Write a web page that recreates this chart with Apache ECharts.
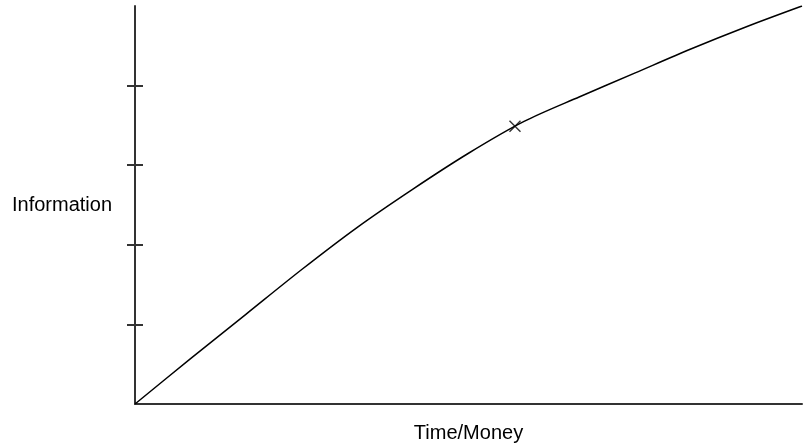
<!DOCTYPE html>
<html>
<head>
<meta charset="utf-8">
<script src="https://cdn.jsdelivr.net/npm/echarts@6/dist/echarts.min.js"></script>
<style>html,body{margin:0;padding:0;background:#fff}#c{width:803px;height:448px}</style>
</head>
<body>
<div id="c"></div>
<script>
// Curve: Information vs Time/Money (arbitrary units)
var curveX = [0, 8.33, 16.67, 25, 33.33, 41.67, 50, 58.33, 66.67, 75, 83.33, 91.67, 100];
var curveY = [0, 0.57, 1.13, 1.69, 2.22, 2.70, 3.15, 3.55, 3.86, 4.16, 4.46, 4.74, 5.0];
var markerX = [56.97];
var markerY = [3.49];
var yTickValues = [1, 2, 3, 4];
var xAxisName = 'Time/Money';
var yAxisName = 'Information';

var chart = echarts.init(document.getElementById('c'));
var axisColor = '#333';
chart.setOption({
  animation: false,
  grid: { left: 135, right: 1, top: 6, bottom: 42 },
  xAxis: {
    type: 'value', min: 0, max: 100,
    name: xAxisName, nameLocation: 'middle', nameGap: 19,
    nameTextStyle: { fontFamily: 'Liberation Sans', fontSize: 20, color: '#000', verticalAlign: 'top' },
    axisLine: { lineStyle: { color: axisColor, width: 2 } },
    axisTick: { show: false }, axisLabel: { show: false }, splitLine: { show: false }
  },
  yAxis: [{
    type: 'value', min: 0, max: 5,
    name: yAxisName, nameLocation: 'middle', nameRotate: 0, nameGap: 23,
    nameTextStyle: { fontFamily: 'Liberation Sans', fontSize: 20, color: '#000', align: 'right', verticalAlign: 'middle' },
    axisLine: { lineStyle: { color: axisColor, width: 2 } },
    axisTick: { show: true, customValues: yTickValues, length: 8, lineStyle: { color: axisColor, width: 2 } },
    axisLabel: { show: false }, splitLine: { show: false }
  }, {
    type: 'value', min: 0, max: 5, position: 'left',
    axisLine: { show: false },
    axisTick: { show: true, inside: true, customValues: yTickValues, length: 8, lineStyle: { color: axisColor, width: 2 } },
    axisLabel: { show: false }, splitLine: { show: false }
  }],
  series: [{
    type: 'line',
    data: curveX.map(function (x, i) { return [x, curveY[i]]; }),
    smooth: 0.3, showSymbol: false,
    lineStyle: { color: '#000', width: 1.5 }
  }, {
    type: 'scatter',
    data: markerX.map(function (x, i) { return [x, markerY[i]]; }),
    symbol: 'path://M0,0L10,10M10,0L0,10', symbolSize: 11,
    itemStyle: { color: 'none', borderColor: '#000', borderWidth: 1.4 }
  }]
});
</script>
</body>
</html>
